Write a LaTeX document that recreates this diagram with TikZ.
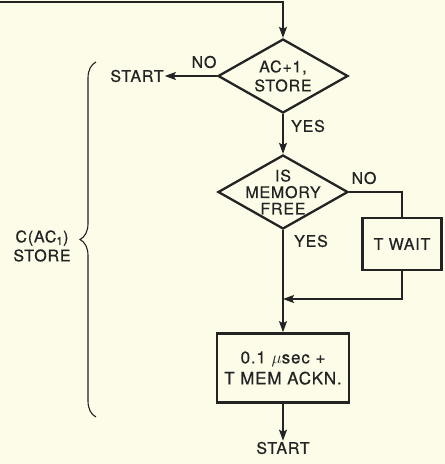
\documentclass[tikz,border=0pt]{standalone}
\usepackage{fontspec}
\setmainfont{TeX Gyre Heros}[LetterSpace=5, FakeBold=0.6]
\usetikzlibrary{shapes.geometric,arrows.meta,decorations.pathreplacing}
\definecolor{paper}{RGB}{252,252,232}
\definecolor{ink}{RGB}{35,35,35}
\tikzstyle{decision} = [diamond, draw=ink, line width=2.3pt, minimum width=130pt, minimum height=74pt, inner sep=0pt]
\tikzstyle{txt} = [text=ink, align=center, font=\fontsize{16}{19}\selectfont, inner sep=1pt]
\tikzstyle{block} = [rectangle, draw=ink, line width=2.7pt, txt, inner sep=0pt]
\tikzstyle{line} = [draw=ink, line width=1.3pt, -{Stealth[length=11pt,width=8pt,inset=2pt]}]
\tikzstyle{wire} = [draw=ink, line width=1.3pt]

\begin{document}
\begin{tikzpicture}[x=1pt, y=-1pt, node distance=116pt]
    \fill[paper] (0,0) rectangle (445,464);
    \useasboundingbox (0,0) rectangle (445,464);

    \node [decision] (acstore) at (283,76) {};
    \node [txt] (acstoretext) at (acstore) {AC+1,\\STORE};
    \node [decision, below of=acstore] (memfree) {};
    \node [txt, font=\fontsize{16}{16.5}\selectfont] (memfreetext) at (memfree) {IS\\MEMORY\\FREE};
    \node [block, minimum width=79pt, minimum height=52pt, right of=memfree, node distance=119pt, yshift=-52pt] (twait) {T WAIT};
    \node [block, minimum width=132pt, minimum height=69pt, font=\fontsize{17}{21}\selectfont, below of=memfree, node distance=176pt] (memack) {0.1 $\mu$sec +\\T MEM ACKN.};
    \node [txt, left of=acstore, node distance=146pt] (startleft) {START};
    \node [txt, below of=memack, node distance=80pt] (startbottom) {START};
    \coordinate [below of=memfree, node distance=107pt] (merge);
    \coordinate (entry) at (0,2);

    % branch labels
    \node [txt] (noone) at (204,62) {NO};
    \node [txt] (yesone) at (308,126) {YES};
    \node [txt] (notwo) at (364,178) {NO};
    \node [txt] (yestwo) at (311,241) {YES};

    \path [line] (entry) -| (acstore);
    \path [line] (acstore) -- (startleft);
    \path [line] (acstore) -- (memfree);
    \path [wire] (memfree.east) -| (twait);
    \path [line] (twait) |- (merge);
    \path [line] (memfree) -- (memack);
    \path [line] (memack) -- (startbottom);

    % brace over the store sequence
    \coordinate (bracebottom) at (96,417);
    \coordinate (bracetop) at (96,62);
    \draw [ink, line width=1.1pt, decorate, decoration={brace, amplitude=16pt}] (bracebottom) -- (bracetop);
    \node [txt] (storelabel) at (42,246) {C(AC\textsubscript{1})\\STORE};
\end{tikzpicture}
\end{document}
